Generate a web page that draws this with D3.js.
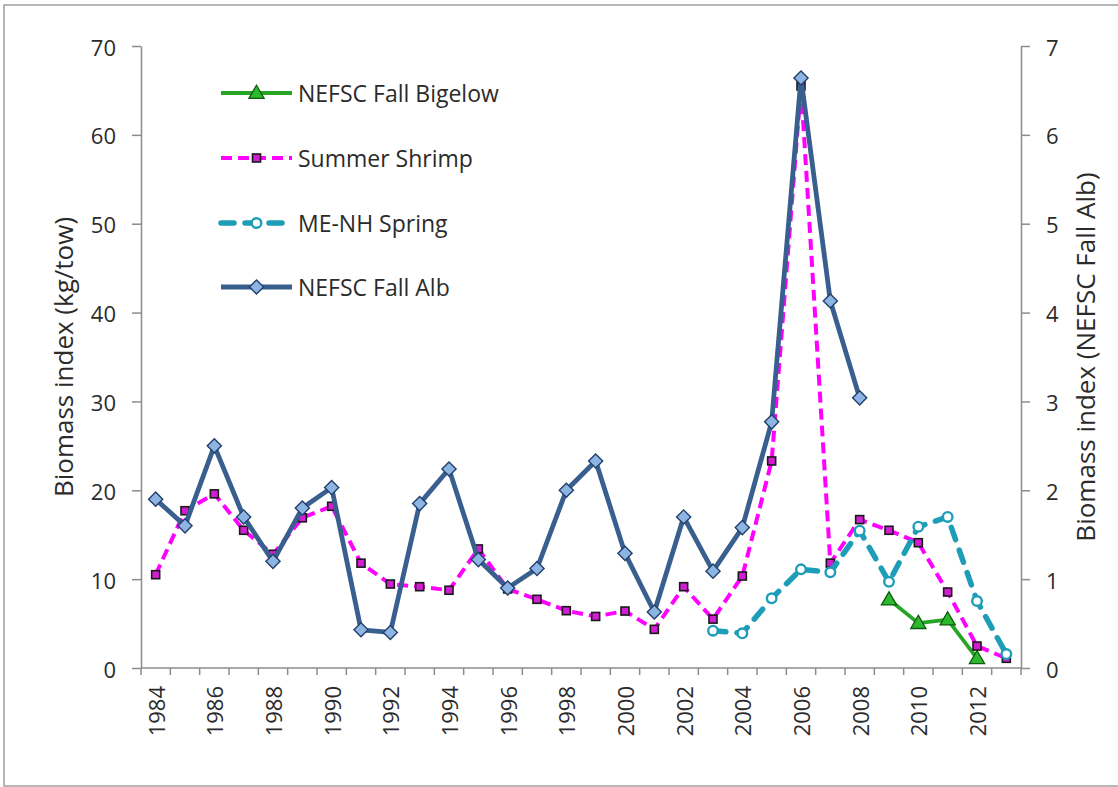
<!DOCTYPE html>
<html>
<head>
<meta charset="utf-8">
<script src="https://cdn.jsdelivr.net/npm/d3@7/dist/d3.min.js"></script>
<style>
  html, body { margin: 0; padding: 0; background: #fff; }
  svg { display: block; font-family: "Open Sans", "Noto Sans", sans-serif; }
</style>
</head>
<body>
<svg id="chart" width="1118" height="787"></svg>
<script>
(function(){
// ---------- data ----------
const years = [1984,1985,1986,1987,1988,1989,1990,1991,1992,1993,1994,1995,1996,1997,1998,
               1999,2000,2001,2002,2003,2004,2005,2006,2007,2008,2009,2010,2011,2012,2013];
const yearLabels = ["1984","1986","1988","1990","1992","1994","1996","1998","2000","2002","2004","2006","2008","2010","2012"];

const fallAlbYears = [1984,1985,1986,1987,1988,1989,1990,1991,1992,1993,1994,1995,1996,1997,1998,1999,2000,2001,2002,2003,2004,2005,2006,2007,2008];
const fallAlb = [1.90,1.60,2.50,1.70,1.20,1.80,2.03,0.43,0.40,1.85,2.24,1.22,0.90,1.12,2.00,2.33,1.29,0.63,1.70,1.09,1.58,2.77,6.64,4.13,3.04];

const shrimpYears = years;
const shrimp = [10.5,17.7,19.6,15.5,12.8,16.9,18.2,11.8,9.45,9.15,8.75,13.4,8.9,7.73,6.45,5.8,6.41,4.35,9.15,5.5,10.35,23.3,65.5,11.8,16.7,15.5,14.1,8.55,2.47,1.09];

const meNHYears = [2003,2004,2005,2006,2007,2008,2009,2010,2011,2012,2013];
const meNH = [4.2,3.9,7.84,11.1,10.77,15.45,9.7,15.9,17.0,7.54,1.57];

const bigelowYears = [2009,2010,2011,2012];
const bigelow = [7.7,5.05,5.45,1.09];

const leftTicks = [0,10,20,30,40,50,60,70];
const rightTicks = [0,1,2,3,4,5,6,7];

const seriesNames = ["NEFSC Fall Bigelow","Summer Shrimp","ME-NH Spring","NEFSC Fall Alb"];

// ---------- layout ----------
const svg = d3.select("#chart");
const pLeft = 141, pRight = 1021, pTop = 46, pBottom = 668;

const x = d3.scaleBand().domain(years).range([pLeft, pRight]);
const yL = d3.scaleLinear().domain([0,70]).range([pBottom, pTop]);
const yR = d3.scaleLinear().domain([0,7]).range([pBottom, pTop]);
const cx = yr => x(yr) + x.bandwidth()/2;

const axisColor = "#8c8c8c";
const textColor = "#2b2b2b";

// outer border
svg.append("rect").attr("x",4).attr("y",5).attr("width",1130).attr("height",781)
  .attr("fill","none").attr("stroke","#a6a6a6").attr("stroke-width",1.6);

// left axis
const gL = svg.append("g").attr("transform",`translate(${pLeft},0)`)
  .call(d3.axisLeft(yL).tickValues(leftTicks).tickFormat(d3.format("d")).tickSize(9).tickPadding(16).tickSizeOuter(0));
// right axis
const gR = svg.append("g").attr("transform",`translate(${pRight},0)`)
  .call(d3.axisRight(yR).tickValues(rightTicks).tickFormat(d3.format("d")).tickSize(9).tickPadding(16).tickSizeOuter(0));
[gL,gR].forEach(g => {
  g.attr("font-family",null).attr("font-size",null);
  g.select(".domain").attr("stroke",axisColor).attr("stroke-width",1.5);
  g.selectAll(".tick line").attr("stroke",axisColor).attr("stroke-width",1.5);
  g.selectAll(".tick text").attr("fill",textColor).style("font-size","22px")
    .attr("dy",null).attr("dominant-baseline","central");
});

// bottom axis (ticks between categories)
const gB = svg.append("g");
gB.append("line").attr("x1",pLeft).attr("x2",pRight).attr("y1",pBottom).attr("y2",pBottom)
  .attr("stroke",axisColor).attr("stroke-width",1.5);
const boundaries = years.map(y => x(y)).concat([pRight]);
gB.selectAll("line.tk").data(boundaries).enter().append("line").attr("class","tk")
  .attr("x1",d=>d).attr("x2",d=>d).attr("y1",pBottom).attr("y2",pBottom+7)
  .attr("stroke",axisColor).attr("stroke-width",1.5);
gB.selectAll("text").data(yearLabels).enter().append("text")
  .attr("transform",d=>`translate(${cx(+d)},${pBottom+18}) rotate(-90)`)
  .attr("text-anchor","end").attr("dominant-baseline","central")
  .attr("fill",textColor).style("font-size","22px").text(d=>d);

// axis titles
svg.append("text").attr("transform",`translate(63,${(pTop+pBottom)/2}) rotate(-90)`)
  .attr("text-anchor","middle").attr("dominant-baseline","central")
  .attr("fill",textColor).style("font-size","26px").text("Biomass index (kg/tow)");
svg.append("text").attr("transform",`translate(1085,${(pTop+pBottom)/2}) rotate(-90)`)
  .attr("text-anchor","middle").attr("dominant-baseline","central")
  .attr("fill",textColor).style("font-size","26px").text("Biomass index (NEFSC Fall Alb)");

// ---------- series ----------
const styles = {
  bigelow: {line:"#26a526", width:3.8, dash:null, cap:"butt"},
  shrimp:  {line:"#ff00ff", width:4, dash:"11,6", cap:"butt"},
  meNH:    {line:"#1e9db8", width:5.5, dash:"13,11", cap:"round"},
  fallAlb: {line:"#385f8e", width:4.8, dash:null, cap:"butt"}
};

function drawLine(xs, vs, yScale, st) {
  const pts = xs.map((yr,i)=>[cx(yr), yScale(vs[i])]);
  svg.append("path").attr("d", d3.line()(pts)).attr("fill","none")
    .attr("stroke",st.line).attr("stroke-width",st.width)
    .attr("stroke-dasharray",st.dash).attr("stroke-linecap",st.cap)
    .attr("stroke-linejoin","round");
  return pts;
}
const triangle = d3.symbol().type(d3.symbolTriangle).size(100);
const square45 = d3.symbol().type(d3.symbolSquare).size(100);

function triMarkers(pts){
  svg.selectAll(null).data(pts).enter().append("path")
    .attr("d",triangle).attr("transform",d=>`translate(${d[0]},${d[1]+1})`)
    .attr("fill","#2db92d").attr("stroke","#0d5c0d").attr("stroke-width",1.3);
}
function sqMarkers(pts){
  svg.selectAll(null).data(pts).enter().append("rect")
    .attr("x",d=>d[0]-4).attr("y",d=>d[1]-4).attr("width",8).attr("height",8)
    .attr("fill","#d21ed2").attr("stroke","#1a1a1a").attr("stroke-width",1.6);
}
function circMarkers(pts){
  svg.selectAll(null).data(pts).enter().append("circle")
    .attr("cx",d=>d[0]).attr("cy",d=>d[1]).attr("r",4.8)
    .attr("fill","#fff").attr("stroke","#1e9db8").attr("stroke-width",2.4);
}
function diaMarkers(pts){
  svg.selectAll(null).data(pts).enter().append("path")
    .attr("d",square45).attr("transform",d=>`translate(${d[0]},${d[1]}) rotate(45)`)
    .attr("fill","#8db4e3").attr("stroke","#22406a").attr("stroke-width",1.4);
}

const pB = drawLine(bigelowYears, bigelow, yL, styles.bigelow); triMarkers(pB);
const pS = drawLine(shrimpYears, shrimp, yL, styles.shrimp); sqMarkers(pS);
const pM = drawLine(meNHYears, meNH, yL, styles.meNH); circMarkers(pM);
const pF = drawLine(fallAlbYears, fallAlb, yR, styles.fallAlb); diaMarkers(pF);

// ---------- legend ----------
const legY = [93,158,223,287];
const lx1 = 221, lx2 = 292, lmx = 256.5, ltx = 298;
const legStyles = [styles.bigelow, styles.shrimp, styles.meNH, styles.fallAlb];
const legMark = [triMarkers, sqMarkers, circMarkers, diaMarkers];
seriesNames.forEach((name,i)=>{
  const st = legStyles[i];
  svg.append("line").attr("x1",lx1).attr("x2",lx2).attr("y1",legY[i]).attr("y2",legY[i])
    .attr("stroke",st.line).attr("stroke-width",st.width)
    .attr("stroke-dasharray",st.dash).attr("stroke-linecap",st.cap);
  legMark[i]([[lmx, legY[i]]]);
  svg.append("text").attr("x",ltx).attr("y",legY[i]).attr("dominant-baseline","central")
    .attr("fill",textColor).style("font-size","23px").text(name);
});
})();
</script>
</body>
</html>
